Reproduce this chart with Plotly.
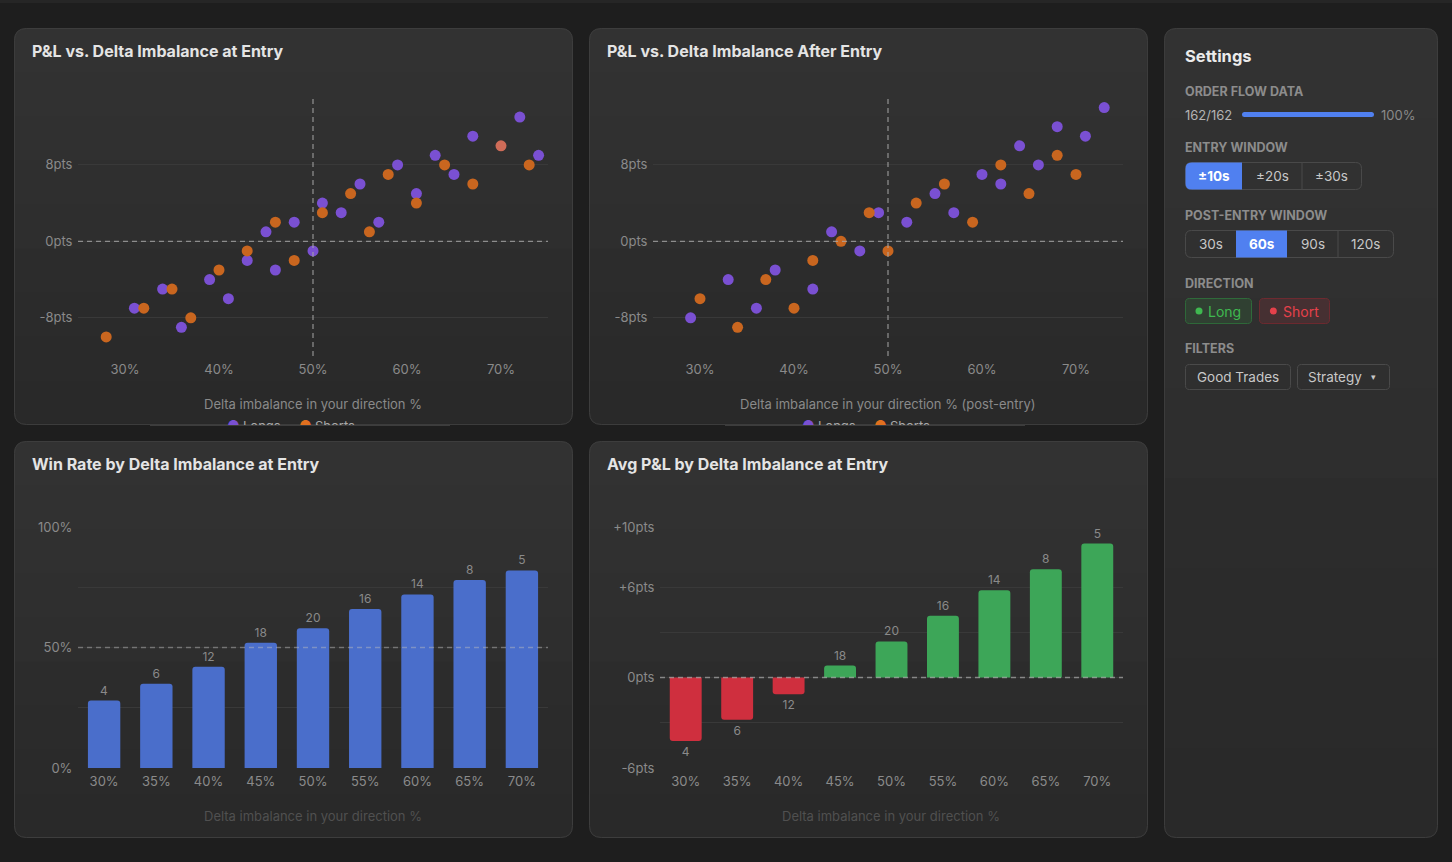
import math
import plotly.graph_objects as go

W, H = 1452, 862

# ---------------- data ----------------
entry_long_x = [31, 34, 36, 39, 41, 43, 45, 46, 48, 50, 51, 53, 55, 57, 59, 61, 63, 65, 67, 72, 74]
entry_long_y = [-7, -5, -9, -4, -6, -2, 1, -3, 2, -1, 4, 3, 6, 2, 8, 5, 9, 7, 11, 13, 9]
entry_short_x = [28, 32, 35, 37, 40, 43, 46, 48, 51, 54, 56, 58, 61, 64, 67, 70, 73]
entry_short_y = [-10, -7, -5, -8, -3, -1, 2, -2, 3, 5, 1, 7, 4, 8, 6, 10, 8]

post_long_x = [29, 33, 36, 38, 42, 44, 47, 49, 52, 55, 57, 60, 62, 64, 66, 68, 71, 73]
post_long_y = [-8, -4, -7, -3, -5, 1, -1, 3, 2, 5, 3, 7, 6, 10, 8, 12, 11, 14]
post_short_x = [30, 34, 37, 40, 42, 45, 48, 50, 53, 56, 59, 62, 65, 68, 70]
post_short_y = [-6, -9, -4, -7, -2, 0, 3, -1, 4, 6, 2, 8, 5, 9, 7]

scatter_xticks = [30, 40, 50, 60, 70]
scatter_xticklabels = ["30%", "40%", "50%", "60%", "70%"]
scatter_yticks = [-8, 0, 8]
scatter_yticklabels = ["-8pts", "0pts", "8pts"]

buckets = ["30%", "35%", "40%", "45%", "50%", "55%", "60%", "65%", "70%"]
win_rate = [28, 35, 42, 52, 58, 66, 72, 78, 82]
avg_pnl = [-4.2, -2.8, -1.1, 0.8, 2.4, 4.1, 5.8, 7.2, 8.9]
trade_counts = [4, 6, 12, 18, 20, 16, 14, 8, 5]

win_yticks = [0, 25, 50, 75, 100]
win_yticklabels = ["0%", "", "50%", "", "100%"]
pnl_yticks = [-6, -3, 0, 3, 6, 10]
pnl_yticklabels = ["-6pts", "", "0pts", "", "+6pts", "+10pts"]

# ---------------- style ----------------
FONT = "Inter"
PAGE = "#1e1e1e"
BORDER = "#3d3d3d"
PURPLE = "#7a50d2"
ORANGE = "#c9661f"
SALMON = "#cf6c58"
BLUE_BAR = "#4a6ecb"
GREEN = "#3da658"
RED = "#cf2f3e"
ACCENT = "#5080f0"
TICK = "#8a8a8a"
GRID = "#393939"


def px(x):
    return x / W


def py(y):
    return 1 - y / H


def rr_path(x0, y0, x1, y1, r):
    """rounded rectangle path with per-corner radii r=(tl,tr,br,bl), pixel coords"""
    tl, tr, br, bl = r
    p = lambda x, y: f"{px(x):.6f},{py(y):.6f}"
    return (f"M {p(x0 + tl, y0)} L {p(x1 - tr, y0)} Q {p(x1, y0)} {p(x1, y0 + tr)} "
            f"L {p(x1, y1 - br)} Q {p(x1, y1)} {p(x1 - br, y1)} "
            f"L {p(x0 + bl, y1)} Q {p(x0, y1)} {p(x0, y1 - bl)} "
            f"L {p(x0, y0 + tl)} Q {p(x0, y0)} {p(x0 + tl, y0)} Z")


def inset(y, y0, y1, r):
    if y < y0 + r:
        d = y0 + r - y
    elif y > y1 - r:
        d = y - (y1 - r)
    else:
        return 0.0
    return r - math.sqrt(max(r * r - d * d, 0))


def band_path(x0, y0, x1, y1, r, ya, yb):
    ys = [ya]
    v = math.floor(ya) + 1
    while v < yb:
        if v < y0 + r or v > y1 - r:
            ys.append(v)
        v += 1
    ys.append(yb)
    left = [(x0 + inset(y, y0, y1, r), y) for y in ys]
    right = [(x1 - inset(y, y0, y1, r), y) for y in reversed(ys)]
    pts = left + right
    return "M " + " L ".join(f"{px(a):.6f},{py(b):.6f}" for a, b in pts) + " Z"


shapes = []
annotations = []

# top strip
shapes.append(dict(type="rect", xref="paper", yref="paper", x0=0, x1=1, y0=py(3), y1=1,
                   fillcolor="#262626", line=dict(width=0), layer="below"))

cards = [(14, 28, 573, 425), (589, 28, 1148, 425), (14, 441, 573, 838),
         (589, 441, 1148, 838), (1164, 28, 1438, 838)]
for (x0, y0, x1, y1) in cards:
    n = 9
    c_top, c_bot = 50, 41
    for i in range(n):
        ya = y0 + (y1 - y0) * i / n
        yb = min(y1, y0 + (y1 - y0) * (i + 1) / n + 1.5)
        c = round(c_top + (c_bot - c_top) * i / (n - 1))
        col = f"rgb({c},{c},{c})"
        shapes.append(dict(type="path", xref="paper", yref="paper",
                           path=band_path(x0, y0, x1, y1, 12, ya, yb),
                           fillcolor=col, line=dict(width=0), layer="below"))
    shapes.append(dict(type="path", xref="paper", yref="paper",
                       path=rr_path(x0 + 0.5, y0 + 0.5, x1 - 0.5, y1 - 0.5, (12, 12, 12, 12)),
                       fillcolor="rgba(0,0,0,0)", line=dict(color=BORDER, width=1), layer="below"))


def text(x, y, s, size=13, color=TICK, xanchor="left", weight=None, yanchor="middle"):
    f = dict(family=FONT, size=size, color=color)
    if weight:
        f["weight"] = weight
    annotations.append(dict(xref="paper", yref="paper", x=px(x), y=py(y), text=s,
                            showarrow=False, xanchor=xanchor, yanchor=yanchor, font=f,
                            borderpad=0, borderwidth=0))


# ---------------- figure ----------------
fig = go.Figure()

short_colors = [ORANGE] * len(entry_short_x)
short_colors[15] = SALMON

fig.add_trace(go.Scatter(x=entry_long_x, y=entry_long_y, mode="markers", name="Longs",
                         marker=dict(size=11, color=PURPLE), xaxis="x", yaxis="y"))
fig.add_trace(go.Scatter(x=entry_short_x, y=entry_short_y, mode="markers", name="Shorts",
                         marker=dict(size=11, color=short_colors), xaxis="x", yaxis="y"))
fig.add_trace(go.Scatter(x=post_long_x, y=post_long_y, mode="markers", name="Longs",
                         marker=dict(size=11, color=PURPLE), xaxis="x2", yaxis="y2"))
fig.add_trace(go.Scatter(x=post_short_x, y=post_short_y, mode="markers", name="Shorts",
                         marker=dict(size=11, color=ORANGE), xaxis="x2", yaxis="y2"))

fig.add_trace(go.Bar(x=buckets, y=win_rate, text=trade_counts, textposition="outside",
                     textfont=dict(family=FONT, size=12, color=TICK), cliponaxis=False,
                     marker=dict(color=BLUE_BAR, cornerradius=3, line=dict(width=0)),
                     xaxis="x3", yaxis="y3"))
pnl_colors = [GREEN if v >= 0 else RED for v in avg_pnl]
fig.add_trace(go.Bar(x=buckets, y=avg_pnl, text=trade_counts, textposition="outside",
                     textfont=dict(family=FONT, size=12, color=TICK), cliponaxis=False,
                     marker=dict(color=pnl_colors, cornerradius=3, line=dict(width=0)),
                     xaxis="x4", yaxis="y4"))

tickfont = dict(family=FONT, size=13, color=TICK)
common_x = dict(showgrid=False, zeroline=False, showline=False, tickfont=tickfont,
                ticks="outside", ticklen=1, tickcolor="rgba(0,0,0,0)", fixedrange=True,
                automargin=False)
common_y = dict(showgrid=True, gridcolor=GRID, gridwidth=1, zeroline=False, showline=False,
                tickfont=tickfont, ticks="outside", ticklen=2, tickcolor="rgba(0,0,0,0)",
                fixedrange=True, automargin=False)

sc_ydom = [py(356), py(98)]
bar_ydom = [py(768), py(527)]

layout_axes = dict(
    xaxis=dict(domain=[px(78), px(548)], range=[25, 75], tickvals=scatter_xticks,
               ticktext=scatter_xticklabels, anchor="y", **common_x),
    yaxis=dict(domain=sc_ydom, range=[-12, 15], tickvals=scatter_yticks,
               ticktext=scatter_yticklabels, anchor="x", **common_y),
    xaxis2=dict(domain=[px(653), px(1123)], range=[25, 75], tickvals=scatter_xticks,
                ticktext=scatter_xticklabels, anchor="y2", **common_x),
    yaxis2=dict(domain=sc_ydom, range=[-12, 15], tickvals=scatter_yticks,
                ticktext=scatter_yticklabels, anchor="x2", **common_y),
    xaxis3=dict(domain=[px(78), px(548)], type="category", anchor="y3", **common_x),
    yaxis3=dict(domain=bar_ydom, range=[0, 100], tickvals=win_yticks,
                ticktext=win_yticklabels, anchor="x3", **common_y),
    xaxis4=dict(domain=[px(660), px(1123)], type="category", anchor="y4", **common_x),
    yaxis4=dict(domain=bar_ydom, range=[-6, 10], tickvals=pnl_yticks,
                ticktext=pnl_yticklabels, anchor="x4", **common_y),
)

# reference lines
DASH_COL = "rgba(170,170,170,0.75)"
for xa, ya in (("x", "y"), ("x2", "y2")):
    shapes.append(dict(type="line", xref=f"{xa} domain", yref=ya, x0=0, x1=1, y0=0, y1=0,
                       line=dict(color=DASH_COL, width=1.3, dash="5px,4px"), layer="above"))
    shapes.append(dict(type="line", xref=xa, yref=f"{ya} domain", x0=50, x1=50, y0=0, y1=1,
                       line=dict(color=DASH_COL, width=1.3, dash="5px,4px"), layer="above"))
shapes.append(dict(type="line", xref="x3 domain", yref="y3", x0=0, x1=1, y0=50, y1=50,
                   line=dict(color="rgba(190,190,190,0.45)", width=1.5, dash="5px,4px"), layer="above"))
shapes.append(dict(type="line", xref="x4 domain", yref="y4", x0=0, x1=1, y0=0, y1=0,
                   line=dict(color="rgba(190,190,190,0.6)", width=1.5, dash="5px,4px"), layer="above"))

# chart titles
TITLE_COL = "#e4e4e4"
text(32, 51, "P&L vs. Delta Imbalance at Entry", 16, TITLE_COL, weight=700)
text(607, 51, "P&L vs. Delta Imbalance After Entry", 16, TITLE_COL, weight=700)
text(32, 464, "Win Rate by Delta Imbalance at Entry", 16, TITLE_COL, weight=700)
text(607, 464, "Avg P&L by Delta Imbalance at Entry", 16, TITLE_COL, weight=700)

# axis titles
text(313, 403.5, "Delta imbalance in your direction %", 13, "#8a8a8a", xanchor="center")
text(888, 403.5, "Delta imbalance in your direction % (post-entry)", 13, "#8a8a8a", xanchor="center")
text(313, 816, "Delta imbalance in your direction %", 13, "#505050", xanchor="center")
text(891, 816, "Delta imbalance in your direction %", 13, "#505050", xanchor="center")

# legends (clipped by card bottom)
for off in (0, 575):
    text(227 + off, 425, "●", 14, PURPLE)
    text(243 + off, 426, "Longs", 13, "#a8a8a8")
    text(299 + off, 425, "●", 14, "#e0701f")
    text(315 + off, 426, "Shorts", 13, "#a8a8a8")
# cover the overflow below the card
for off in (0, 575):
    annotations.append(dict(xref="paper", yref="paper", x=px(150 + off), y=py(426), text="\u00a0",
                            showarrow=False, xanchor="left", yanchor="top", width=300, height=14,
                            bgcolor=PAGE, borderpad=0, borderwidth=0, font=dict(size=6)))
    annotations.append(dict(xref="paper", yref="paper", x=px(150 + off), y=py(424.5), text="\u00a0",
                            showarrow=False, xanchor="left", yanchor="top", width=300, height=1,
                            bgcolor=BORDER, borderpad=0, borderwidth=0, font=dict(size=1)))

# ---------------- settings panel ----------------
HDR = "#8c8c8c"
BTN_TXT = "#c8c8c8"
BTN_BORDER = "#4a4a4a"
HDR_SIZE = 12.5
text(1185, 56, "Settings", 16.5, "#ebebeb", weight=700)
text(1185, 91.5, "ORDER FLOW DATA", HDR_SIZE, HDR, weight=700)
text(1185, 114.5, "162/162", 13, "#b4b4b4")
shapes.append(dict(type="path", xref="paper", yref="paper",
                   path=rr_path(1242, 112, 1374, 117, (2.5, 2.5, 2.5, 2.5)),
                   fillcolor=ACCENT, line=dict(width=0), layer="above"))
text(1381, 114.5, "100%", 13, "#8a8a8a")

text(1185, 147.5, "ENTRY WINDOW", HDR_SIZE, HDR, weight=700)


def seg_group(x0, y0, x1, y1, bounds, labels, active):
    shapes.append(dict(type="path", xref="paper", yref="paper",
                       path=rr_path(x0, y0, x1, y1, (6, 6, 6, 6)),
                       fillcolor="rgba(0,0,0,0)", line=dict(color=BTN_BORDER, width=1), layer="above"))
    edges = [x0] + bounds + [x1]
    for i, lab in enumerate(labels):
        a, b = edges[i], edges[i + 1]
        if i == active:
            rad = (6 if i == 0 else 0, 6 if i == len(labels) - 1 else 0,
                   6 if i == len(labels) - 1 else 0, 6 if i == 0 else 0)
            shapes.append(dict(type="path", xref="paper", yref="paper",
                               path=rr_path(a, y0, b, y1, rad),
                               fillcolor=ACCENT, line=dict(width=0), layer="above"))
            text((a + b) / 2, (y0 + y1) / 2, lab, 13.5, "#ffffff", xanchor="center", weight=700)
        else:
            text((a + b) / 2, (y0 + y1) / 2, lab, 13.5, BTN_TXT, xanchor="center")
    for i, bx in enumerate(bounds):
        if i == active or i + 1 == active:
            continue
        shapes.append(dict(type="line", xref="paper", yref="paper", x0=px(bx), x1=px(bx),
                           y0=py(y0), y1=py(y1), line=dict(color=BTN_BORDER, width=1), layer="above"))


seg_group(1185.5, 162.5, 1361.5, 189.5, [1242, 1302], ["±10s", "±20s", "±30s"], 0)
text(1185, 215.5, "POST-ENTRY WINDOW", HDR_SIZE, HDR, weight=700)
seg_group(1185.5, 230.5, 1393.5, 257.5, [1236, 1287, 1338], ["30s", "60s", "90s", "120s"], 1)

text(1185, 283.5, "DIRECTION", HDR_SIZE, HDR, weight=700)
shapes.append(dict(type="path", xref="paper", yref="paper",
                   path=rr_path(1185.5, 298.5, 1251.5, 323.5, (4, 4, 4, 4)),
                   fillcolor="rgba(63,185,80,0.13)", line=dict(color="#2f6a3a", width=1), layer="above"))
shapes.append(dict(type="circle", xref="paper", yref="paper", x0=px(1195.5), x1=px(1202.5),
                   y0=py(314.5), y1=py(307.5), fillcolor="#3fb950", line=dict(width=0), layer="above"))
text(1208, 311.5, "Long", 14, "#3fb950")
shapes.append(dict(type="path", xref="paper", yref="paper",
                   path=rr_path(1259.5, 298.5, 1329.5, 323.5, (4, 4, 4, 4)),
                   fillcolor="rgba(229,65,75,0.13)", line=dict(color="#6e2a30", width=1), layer="above"))
shapes.append(dict(type="circle", xref="paper", yref="paper", x0=px(1269.8), x1=px(1276.8),
                   y0=py(314.5), y1=py(307.5), fillcolor="#e5414b", line=dict(width=0), layer="above"))
text(1283, 311.5, "Short", 14, "#e5414b")

text(1185, 349, "FILTERS", HDR_SIZE, HDR, weight=700)
shapes.append(dict(type="path", xref="paper", yref="paper",
                   path=rr_path(1185.5, 364.5, 1290.5, 389.5, (4, 4, 4, 4)),
                   fillcolor="rgba(0,0,0,0)", line=dict(color=BTN_BORDER, width=1), layer="above"))
text(1238, 377, "Good Trades", 13.5, BTN_TXT, xanchor="center")
shapes.append(dict(type="path", xref="paper", yref="paper",
                   path=rr_path(1297.5, 364.5, 1389.5, 389.5, (4, 4, 4, 4)),
                   fillcolor="rgba(0,0,0,0)", line=dict(color=BTN_BORDER, width=1), layer="above"))
text(1308, 377, "Strategy", 13.5, BTN_TXT)
text(1373.5, 376.5, "▾", 9, BTN_TXT, xanchor="center")

fig.update_layout(
    width=W, height=H, margin=dict(l=0, r=0, t=0, b=0, pad=0, autoexpand=False),
    paper_bgcolor=PAGE, plot_bgcolor="rgba(0,0,0,0)",
    font=dict(family=FONT, color=TICK),
    showlegend=False, hovermode=False, bargap=0.38,
    shapes=shapes, annotations=annotations,
    **layout_axes,
)

fig.write_html("out.html", config={"displayModeBar": False})
